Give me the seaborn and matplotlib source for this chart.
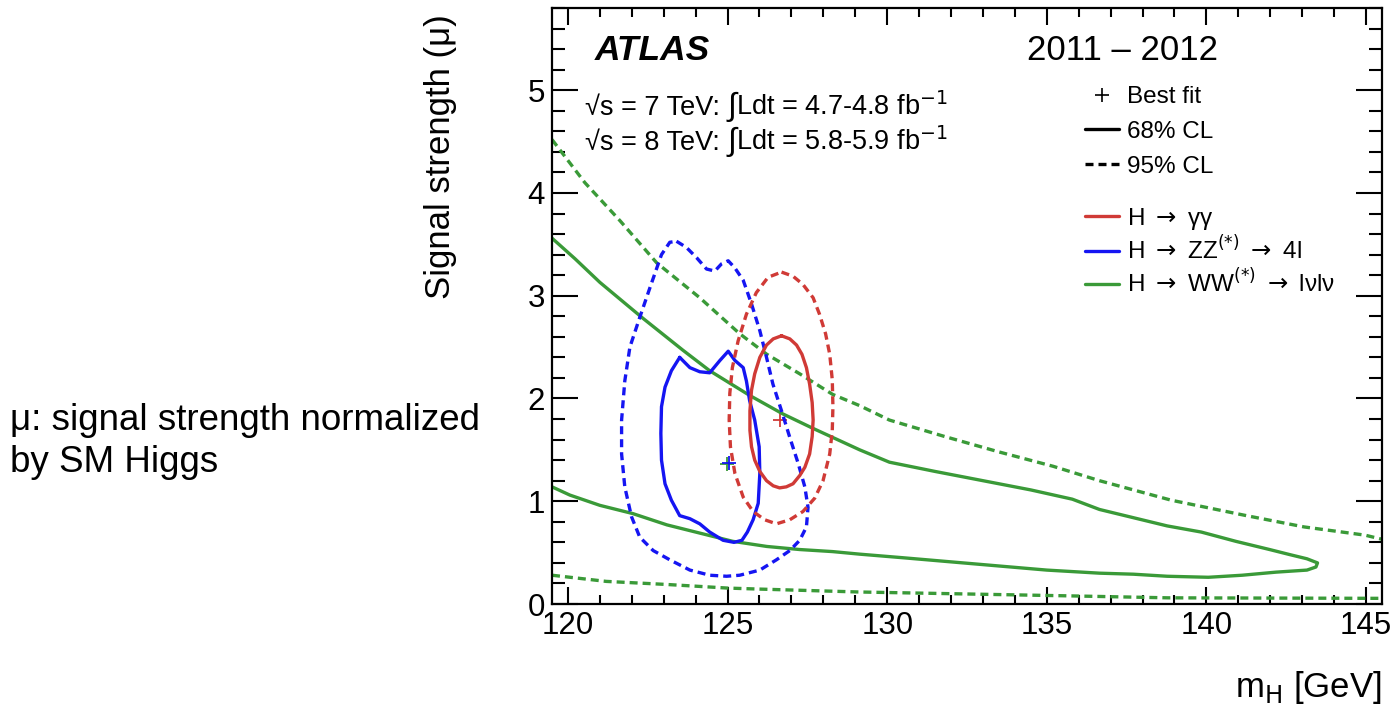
import numpy as np
import matplotlib
matplotlib.use("Agg")
import matplotlib.pyplot as plt
from matplotlib.lines import Line2D
from matplotlib.ticker import MultipleLocator
from matplotlib.offsetbox import TextArea, HPacker, AnchoredOffsetbox
import seaborn as sns

# ---------------- data ----------------
# H -> gamma gamma, 68% CL contour (closed)
gg68_mh = [126.69, 126.95, 127.16, 127.33, 127.47, 127.57, 127.65, 127.68, 127.65,
           127.57, 127.42, 127.26, 127.05, 126.84, 126.63, 126.43, 126.22, 126.01,
           125.85, 125.75, 125.70, 125.70, 125.75, 125.85, 126.01, 126.22, 126.43]
gg68_mu = [2.61, 2.58, 2.52, 2.43, 2.30, 2.14, 1.96, 1.79, 1.63,
           1.46, 1.33, 1.25, 1.17, 1.14, 1.13, 1.15, 1.20, 1.29,
           1.40, 1.53, 1.69, 1.88, 2.08, 2.24, 2.40, 2.52, 2.58]
# H -> gamma gamma, 95% CL contour (closed)
gg95_mh = [126.69, 127.05, 127.36, 127.68, 127.88, 128.07, 128.20, 128.28, 128.30,
           128.28, 128.20, 127.99, 127.73, 127.36, 126.95, 126.53, 126.16, 125.80,
           125.49, 125.23, 125.09, 125.05, 125.07, 125.15, 125.33, 125.59, 125.90,
           126.27]
gg95_mu = [3.23, 3.19, 3.11, 2.98, 2.82, 2.63, 2.43, 2.18, 1.92,
           1.69, 1.46, 1.20, 1.03, 0.90, 0.82, 0.78, 0.82, 0.90,
           1.04, 1.27, 1.53, 1.79, 2.05, 2.30, 2.56, 2.82, 3.03,
           3.18]
# H -> ZZ(*) -> 4l, 68% CL contour (closed)
zz68_mh = [123.50, 123.82, 124.13, 124.44, 124.76, 125.02, 125.23, 125.49, 125.59,
           125.69, 125.85, 125.99, 126.01, 125.96, 125.80, 125.62, 125.45, 125.20,
           124.86, 124.44, 124.13, 123.82, 123.50, 123.24, 123.04, 122.93, 122.91,
           122.93, 123.04, 123.24]
zz68_mu = [2.40, 2.30, 2.26, 2.25, 2.37, 2.46, 2.37, 2.30, 2.17,
           1.98, 1.79, 1.53, 1.27, 0.98, 0.82, 0.70, 0.62, 0.60,
           0.62, 0.70, 0.78, 0.83, 0.86, 1.01, 1.17, 1.40, 1.66,
           1.92, 2.11, 2.27]
# H -> ZZ(*) -> 4l, 95% CL contour (closed)
zz95_mh = [123.40, 123.71, 124.03, 124.34, 124.60, 124.81, 125.02, 125.23, 125.49,
           125.75, 126.01, 126.22, 126.42, 126.69, 126.95, 127.21, 127.42, 127.52,
           127.47, 127.26, 126.95, 126.53, 126.01, 125.38, 124.97, 124.44, 123.82,
           123.19, 122.67, 122.25, 121.99, 121.78, 121.68, 121.68, 121.78, 121.94,
           122.25, 122.57, 122.93, 123.19]
zz95_mu = [3.53, 3.47, 3.37, 3.26, 3.24, 3.31, 3.34, 3.27, 3.15,
           2.92, 2.66, 2.40, 2.14, 1.88, 1.62, 1.37, 1.14, 0.94,
           0.75, 0.62, 0.52, 0.43, 0.33, 0.28, 0.27, 0.28, 0.33,
           0.43, 0.52, 0.65, 0.85, 1.14, 1.46, 1.79, 2.17, 2.50,
           2.79, 3.08, 3.40, 3.52]
# H -> WW(*) -> lvlv, 68% CL contour (open at the left edge)
ww68_mh = [119.5, 120.22, 121.0, 122.35, 123.60, 124.44, 125.69, 126.73, 127.67,
           129.14, 130.07, 131.5, 133.0, 134.5, 135.8, 136.65, 137.71, 138.77,
           139.84, 140.92, 141.98, 142.62, 143.15, 143.48, 143.43, 143.15, 142.18,
           141.12, 140.06, 138.77, 137.71, 136.65, 135.0, 133.5, 132.0, 130.5,
           129.14, 128.29, 127.26, 126.23, 125.16, 124.13, 123.10, 122.03, 121.0,
           120.06, 119.5]
ww68_mu = [3.56, 3.36, 3.13, 2.78, 2.47, 2.27, 2.03, 1.85, 1.71,
           1.50, 1.38, 1.29, 1.20, 1.11, 1.02, 0.92, 0.84, 0.76,
           0.70, 0.61, 0.53, 0.48, 0.44, 0.40, 0.36, 0.33, 0.31,
           0.28, 0.26, 0.27, 0.29, 0.30, 0.33, 0.37, 0.41, 0.45,
           0.485, 0.51, 0.53, 0.56, 0.61, 0.69, 0.77, 0.88, 0.96,
           1.06, 1.14]
# H -> WW(*) -> lvlv, 95% CL upper and lower boundaries
ww95u_mh = [119.5, 120.53, 121.63, 122.78, 124.13, 125.38, 126.23, 127.26, 128.29,
            129.14, 130.07, 131.8, 133.5, 135.2, 136.65, 138.90, 141.25, 143.06,
            144.97, 145.5]
ww95u_mu = [4.52, 4.10, 3.73, 3.32, 2.98, 2.63, 2.43, 2.24, 2.04,
            1.93, 1.79, 1.63, 1.48, 1.34, 1.20, 1.01, 0.86, 0.75,
            0.67, 0.63]
ww95l_mh = [119.5, 121.2, 123.1, 125.0, 125.9, 129.1, 135.9, 138.8, 145.5]
ww95l_mu = [0.28, 0.22, 0.19, 0.155, 0.146, 0.117, 0.078, 0.06, 0.055]

# best-fit points: gamma gamma, WW, ZZ
bf_mh = [126.63, 124.98, 125.06]
bf_mu = [1.79, 1.36, 1.37]

channel_labels = ["H$\\;\\rightarrow\\;$\u03b3\u03b3",
                  "H$\\;\\rightarrow\\;$ZZ$^{(*)}$$\\;\\rightarrow\\;$4l",
                  "H$\\;\\rightarrow\\;$WW$^{(*)}$$\\;\\rightarrow\\;$l\u03bdl\u03bd"]
cl_labels = ["Best fit", "68% CL", "95% CL"]
energies = ["7", "8"]
lumis = ["4.7-4.8", "5.8-5.9"]

RED = "#d03a36"
BLUE = "#1515f2"
GREEN = "#3a9a38"

# ---------------- style ----------------
sns.set_theme(style="ticks")
plt.rcParams["font.family"] = ["Liberation Sans", "DejaVu Sans"]
plt.rcParams["mathtext.fontset"] = "dejavusans"
for k in ("text.color", "axes.labelcolor", "xtick.color", "ytick.color",
          "axes.edgecolor"):
    plt.rcParams[k] = "black"

W, H = 1398, 707
fig = plt.figure(figsize=(W / 100, H / 100), dpi=100)
ax = fig.add_axes([552 / W, 1 - 604 / H, 830 / W, 596 / H])

LW = 2.4
DASH = (0, (2.4, 1.5))


def closed(a):
    return np.append(np.asarray(a, float), a[0])


def draw(xv, yv, color, ls="-"):
    sns.lineplot(x=xv, y=yv, sort=False, estimator=None, color=color,
                 lw=LW, linestyle=ls, ax=ax)


draw(ww68_mh, ww68_mu, GREEN)
draw(ww95u_mh, ww95u_mu, GREEN, DASH)
draw(ww95l_mh, ww95l_mu, GREEN, DASH)
draw(closed(zz95_mh), closed(zz95_mu), BLUE, DASH)
draw(closed(zz68_mh), closed(zz68_mu), BLUE)
draw(closed(gg95_mh), closed(gg95_mu), RED, DASH)
draw(closed(gg68_mh), closed(gg68_mu), RED)

for xm, ym, c in zip(bf_mh, bf_mu, [RED, GREEN, BLUE]):
    sns.scatterplot(x=[xm], y=[ym], marker="+", s=110, color=c, linewidth=1.3, ax=ax)

# ---------------- axes ----------------
ax.set_xlim(119.5, 145.5)
ax.set_ylim(0, 5.8)
ax.xaxis.set_major_locator(MultipleLocator(5))
ax.xaxis.set_minor_locator(MultipleLocator(1))
ax.yaxis.set_major_locator(MultipleLocator(1))
ax.yaxis.set_minor_locator(MultipleLocator(0.2))
ax.tick_params(axis="both", which="both", direction="in", top=True, right=True,
               width=1.5, color="black", labelcolor="black")
ax.tick_params(axis="x", which="major", length=12.2, labelsize=22.5, pad=5)
ax.tick_params(axis="x", which="minor", length=6.5)
ax.tick_params(axis="y", which="major", length=18.7, labelsize=22.5, pad=5)
ax.tick_params(axis="y", which="minor", length=9.4)
for sp in ax.spines.values():
    sp.set_linewidth(1.6)
    sp.set_color("black")

ax.set_xlabel("m$_{\\mathrm{H}}$ [GeV]", fontsize=25, loc="right", labelpad=20)
ax.set_ylabel("Signal strength (\u03bc)", fontsize=25, loc="top")
ax.yaxis.set_label_coords(-0.114, 0.99)

# ---------------- texts ----------------
ax.text(0.052, 0.913, "ATLAS", transform=ax.transAxes, fontsize=25.5,
        fontweight="bold", fontstyle="italic", va="baseline", ha="left")
ax.text(0.802, 0.913, "2011 \u2013 2012", transform=ax.transAxes, fontsize=25,
        va="baseline", ha="right")

for en, lu, ypos in zip(energies, lumis, [0.808, 0.750]):
    parts = [TextArea("\u221as = %s TeV: " % en, textprops=dict(fontsize=19.5)),
             TextArea("\u222b", textprops=dict(fontsize=23, family="Liberation Sans")),
             TextArea("Ldt = %s fb$^{-1}$" % lu, textprops=dict(fontsize=19.5))]
    row = HPacker(children=parts, align="baseline", pad=0, sep=0)
    ax.add_artist(AnchoredOffsetbox(loc="lower left", child=row, pad=0, borderpad=0,
                                    frameon=False, bbox_to_anchor=(0.040, ypos),
                                    bbox_transform=ax.transAxes))

fig.text(10 / W, 1 - 430 / H, "\u03bc: signal strength normalized", fontsize=26.5,
         va="baseline", ha="left")
fig.text(10 / W, 1 - 472 / H, "by SM Higgs", fontsize=26.5, va="baseline", ha="left")

# ---------------- legends ----------------
h1 = [Line2D([], [], ls="none", marker="+", markersize=10, mew=1.2, color="black"),
      Line2D([], [], color="black", lw=LW),
      Line2D([], [], color="black", lw=LW, ls=DASH)]
leg1 = ax.legend(h1, cl_labels, loc="upper left", bbox_to_anchor=(0.642, 0.869),
                 frameon=False, fontsize=17.5, handlelength=1.4, handletextpad=0.35,
                 labelspacing=0.53, borderpad=0, borderaxespad=0)
ax.add_artist(leg1)
h2 = [Line2D([], [], color=c, lw=LW) for c in (RED, BLUE, GREEN)]
ax.legend(h2, channel_labels, loc="upper left", bbox_to_anchor=(0.642, 0.668),
          frameon=False, fontsize=17.5, handlelength=1.4, handletextpad=0.35,
          labelspacing=0.17, borderpad=0, borderaxespad=0)

fig.savefig("out.png", dpi=100)
